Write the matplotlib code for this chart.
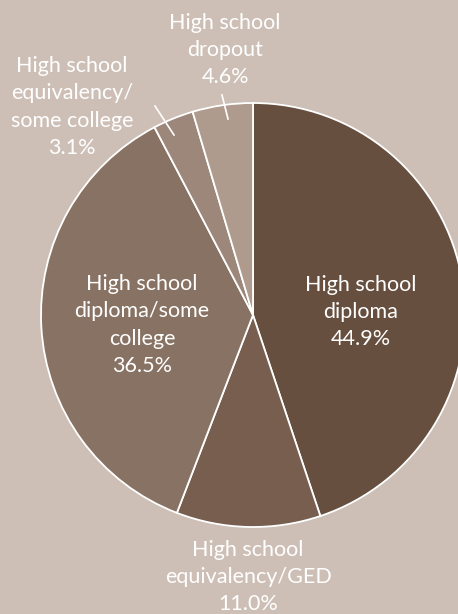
import matplotlib
matplotlib.use("Agg")
import matplotlib.pyplot as plt

# data, clockwise from 12 o'clock
labels = ["High school\ndiploma", "High school\nequivalency/GED", "High school\ndiploma/some\ncollege",
          "High school\nequivalency/\nsome college", "High school\ndropout"]
shares = [44.9, 11.0, 36.5, 3.1, 4.6]
colors = ["#674f40", "#775e4f", "#887263", "#9c877a", "#af9b8e"]
bg = "#cdbfb6"

W, H = 458, 614
fig = plt.figure(figsize=(W / 100, H / 100), dpi=100, facecolor=bg)
ax = fig.add_axes([0, 0, 1, 1])
ax.set_facecolor(bg)

cx, cy, r = 253, H - 315, 212
ax.pie(shares, colors=colors, startangle=90, counterclock=False, center=(cx, cy), radius=r,
       wedgeprops=dict(edgecolor="white", linewidth=1.3), frame=True)
ax.set_xlim(0, W)
ax.set_ylim(0, H)
ax.set_aspect("equal")
ax.axis("off")

fam = ["Lato", "DejaVu Sans"]
# label block centres (pixels from top)
pos = [(361, 312), (248, 577), (142, 325), (72, 107), (225, 50)]
for lab, v, (x, y) in zip(labels, shares, pos):
    ax.text(x, H - y, lab + "\n%.1f%%" % v, ha="center", va="center", color="white",
            fontsize=15.5, family=fam, linespacing=1.45)

# leader lines for small slices
ax.plot([155, 174], [H - 106, H - 135], color="white", lw=1.2)
ax.plot([222, 228], [H - 95, H - 119], color="white", lw=1.2)

fig.savefig("out.png", dpi=100, facecolor=bg)
